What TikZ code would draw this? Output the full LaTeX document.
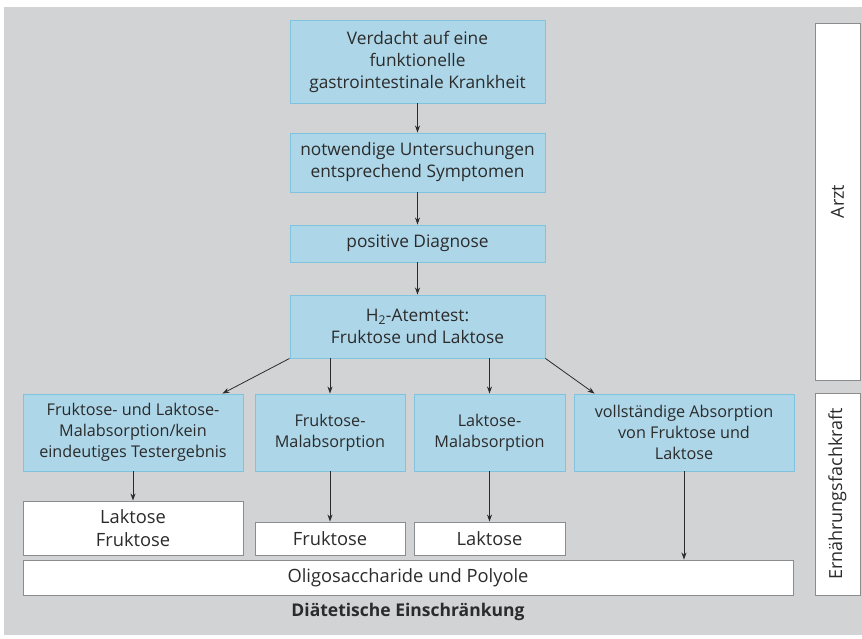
\documentclass[tikz,border=0pt]{standalone}
\usepackage{fontspec}
\setmainfont{Open Sans}
\usetikzlibrary{arrows.meta,calc}
\definecolor{bg}{HTML}{D1D3D4}
\definecolor{bluef}{HTML}{ADD6E8}
\definecolor{bluel}{HTML}{7FC3DE}
\definecolor{txt}{HTML}{2B2B2B}
\definecolor{wline}{HTML}{8A8C8E}
\begin{document}
\begin{tikzpicture}[x=1pt,y=-1pt,
  bluebox/.style={draw=bluel,fill=bluef,line width=0.9pt,inner sep=0pt,align=center,text=txt},
  topbox/.style={bluebox,font=\fontsize{17.3}{22}\selectfont},
  lowbox/.style={bluebox,font=\fontsize{16.2}{21}\selectfont},
  whitebox/.style={draw=wline,fill=white,line width=0.9pt,inner sep=0pt,align=center,text=txt,font=\fontsize{18.3}{23}\selectfont},
  sidelabel/.style={rotate=90,text=txt,font=\fontsize{18}{20}\selectfont},
  arr/.style={draw=txt,line width=0.8pt,-{Stealth[length=7pt,width=5pt]}}]
\useasboundingbox (0,0) rectangle (862,639);
\fill[bg] (4,7) rectangle (862,635);
\node[topbox,minimum width=255pt,minimum height=83pt] (b1) at (417.5,61.5) {Verdacht auf eine\\funktionelle\\gastrointestinale Krankheit};
\node[topbox,minimum width=255pt,minimum height=59pt] (b2) at (417.5,162.5) {notwendige Untersuchungen\\entsprechend Symptomen};
\node[topbox,minimum width=255pt,minimum height=37pt] (b3) at (417.5,243.5) {positive Diagnose};
\node[topbox,minimum width=255pt,minimum height=63pt] (b4) at (417.5,326.5) {H\textsubscript{2}-Atemtest:\\Fruktose und Laktose};
\node[lowbox,minimum width=220pt,minimum height=77pt] (ba) at (133,432.5) {Fruktose- und Laktose-\\Malabsorption/kein\\eindeutiges Testergebnis};
\node[lowbox,minimum width=150pt,minimum height=77pt] (bb) at (330,432.5) {Fruktose-\\Malabsorption};
\node[lowbox,minimum width=151pt,minimum height=77pt] (bc) at (489.5,432.5) {Laktose-\\Malabsorption};
\node[lowbox,minimum width=220pt,minimum height=77pt] (bd) at (684,432.5) {vollständige Absorption\\von Fruktose und\\Laktose};
\node[whitebox,minimum width=220pt,minimum height=54pt] (wa) at (133,528) {Laktose\\Fruktose};
\node[whitebox,minimum width=150pt,minimum height=33pt] (wb) at (330,538.5) {Fruktose};
\node[whitebox,minimum width=151pt,minimum height=33pt] (wc) at (489.5,538.5) {Laktose};
\node[whitebox,minimum width=770pt,minimum height=35pt] (olig) at (408,577.5) {Oligosaccharide und Polyole};
\node[whitebox,minimum width=45pt,minimum height=357pt] (arzt) at (837.5,201.5) {};
\node[sidelabel] (arztt) at (arzt.center) {Arzt};
\node[whitebox,minimum width=45pt,minimum height=202pt] (ern) at (837.5,494) {};
\node[sidelabel] (ernt) at (ern.center) {Ernährungsfachkraft};
\node[text=txt,font=\fontsize{17.5}{22}\selectfont\bfseries] (title) at (408,612) {Diätetische Einschränkung};
\draw[arr] (b1.south) -- (b2.north);
\draw[arr] (b2.south) -- (b3.north);
\draw[arr] (b3.south) -- (b4.north);
\draw[arr] (b4.south west) -- ($(ba.north east)+(-21,0)$);
\draw[arr] (bb.north |- b4.south) -- (bb.north);
\draw[arr] (bc.north |- b4.south) -- (bc.north);
\draw[arr] (b4.south east) -- ($(bd.north west)+(21,0)$);
\draw[arr] (ba.south) -- (wa.north);
\draw[arr] (bb.south) -- (wb.north);
\draw[arr] (bc.south) -- (wc.north);
\draw[arr] (bd.south) -- (bd.south |- olig.north);
\end{tikzpicture}
\end{document}
